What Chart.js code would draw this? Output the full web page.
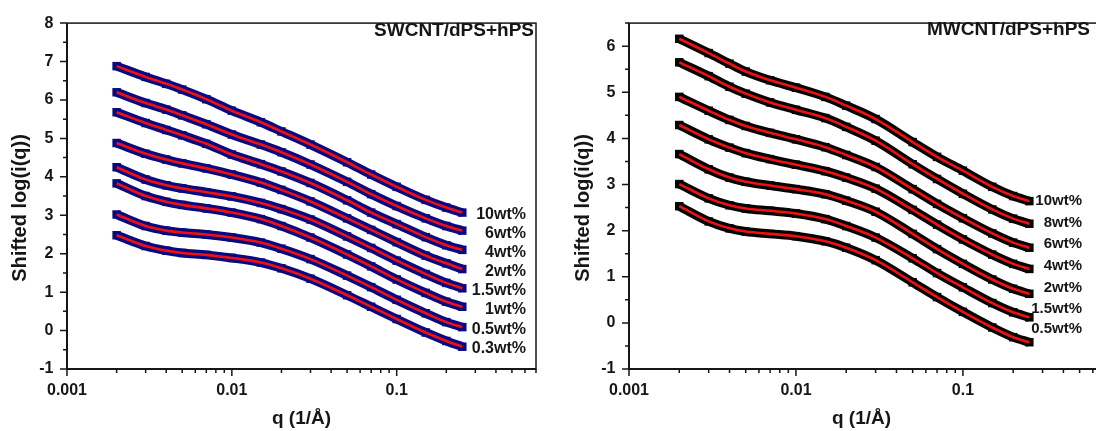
<!DOCTYPE html>
<html>
<head>
<meta charset="utf-8">
<script src="https://cdn.jsdelivr.net/npm/chart.js@4.4.1/dist/chart.umd.min.js"></script>
<style>
  html, body { margin: 0; padding: 0; background: #fff; overflow: hidden; }
  body { width: 1096px; height: 431px; position: relative; }
  #sw { position: absolute; left: 0; top: 0; }
  #mw { position: absolute; left: 548px; top: 0; }
</style>
</head>
<body>
<canvas id="sw" width="548" height="431"></canvas>
<canvas id="mw" width="568" height="431"></canvas>
<script>
// q (1/Å) shared by every curve
const qValues = [0.002, 0.003, 0.004, 0.005, 0.007, 0.01, 0.015, 0.02, 0.03, 0.05, 0.07, 0.1, 0.15, 0.2, 0.25];

// SWCNT/dPS+hPS, shifted log(i(q))
const sw10 = [6.88, 6.6, 6.42, 6.27, 6.02, 5.72, 5.42, 5.18, 4.84, 4.38, 4.06, 3.74, 3.4, 3.2, 3.07];
const sw6  = [6.2, 5.92, 5.75, 5.6, 5.37, 5.1, 4.84, 4.64, 4.32, 3.87, 3.55, 3.24, 2.92, 2.72, 2.6];
const sw4  = [5.68, 5.4, 5.22, 5.08, 4.86, 4.58, 4.33, 4.14, 3.84, 3.39, 3.07, 2.77, 2.43, 2.22, 2.1];
const sw2  = [4.88, 4.6, 4.45, 4.35, 4.22, 4.06, 3.85, 3.66, 3.36, 2.92, 2.62, 2.3, 1.95, 1.75, 1.6];
const sw15 = [4.25, 3.93, 3.78, 3.7, 3.6, 3.49, 3.32, 3.16, 2.89, 2.45, 2.15, 1.82, 1.47, 1.24, 1.1];
const sw1  = [3.83, 3.5, 3.35, 3.27, 3.18, 3.07, 2.9, 2.72, 2.42, 1.98, 1.67, 1.33, 0.98, 0.75, 0.62];
const sw05 = [3.02, 2.72, 2.6, 2.55, 2.5, 2.42, 2.29, 2.13, 1.86, 1.43, 1.13, 0.8, 0.45, 0.22, 0.09];
const sw03 = [2.48, 2.2, 2.08, 2.02, 1.97, 1.89, 1.77, 1.62, 1.35, 0.92, 0.62, 0.3, -0.05, -0.27, -0.42];
const swSeries = [sw10, sw6, sw4, sw2, sw15, sw1, sw05, sw03];
const swLabels = ['10wt%', '6wt%', '4wt%', '2wt%', '1.5wt%', '1wt%', '0.5wt%', '0.3wt%'];
const swLabelLevels = [3.02, 2.53, 2.02, 1.53, 1.04, 0.55, 0.03, -0.46];

// MWCNT/dPS+hPS, shifted log(i(q))
const mw10 = [6.16, 5.85, 5.62, 5.45, 5.26, 5.1, 4.9, 4.71, 4.42, 3.92, 3.6, 3.3, 2.95, 2.75, 2.64];
const mw8  = [5.65, 5.35, 5.12, 4.97, 4.78, 4.62, 4.44, 4.25, 3.95, 3.44, 3.12, 2.8, 2.46, 2.26, 2.15];
const mw6  = [4.9, 4.6, 4.4, 4.27, 4.12, 3.98, 3.81, 3.64, 3.38, 2.9, 2.58, 2.27, 1.94, 1.74, 1.63];
const mw4  = [4.29, 3.98, 3.8, 3.68, 3.55, 3.43, 3.29, 3.15, 2.91, 2.45, 2.13, 1.81, 1.48, 1.28, 1.17];
const mw2  = [3.66, 3.33, 3.15, 3.06, 2.98, 2.9, 2.79, 2.65, 2.41, 1.93, 1.6, 1.28, 0.94, 0.74, 0.63];
const mw15 = [3.01, 2.7, 2.55, 2.48, 2.43, 2.37, 2.25, 2.1, 1.85, 1.4, 1.08, 0.77, 0.43, 0.23, 0.12];
const mw05 = [2.53, 2.2, 2.05, 1.98, 1.93, 1.88, 1.77, 1.63, 1.36, 0.88, 0.56, 0.24, -0.1, -0.31, -0.42];
const mwSeries = [mw10, mw8, mw6, mw4, mw2, mw15, mw05];
const mwLabels = ['10wt%', '8wt%', '6wt%', '4wt%', '2wt%', '1.5wt%', '0.5wt%'];
const mwLabelLevels = [2.64, 2.16, 1.71, 1.24, 0.76, 0.31, -0.14];

// x axis ticks
const xDecades = [0.001, 0.01, 0.1];
const xTickLabels = ['0.001', '0.01', '0.1'];
const X_MAX = 0.7;

const FONT = "'Liberation Sans', Arial, sans-serif";
const INK = '#161616';
const FIT_RED = '#f01010';

const xTickValues = [];
xDecades.forEach(d => {
  for (let k = 1; k <= 9; k++) {
    if (d * k <= X_MAX + 1e-9) xTickValues.push(d * k);
  }
});

// each measured curve: thick band of square markers, red fit on top
function buildDatasets(series, bandColor) {
  const sets = [];
  series.forEach(values => {
    sets.push({
      data: values.map((v, i) => ({ x: qValues[i], y: v })),
      order: 2,
      borderColor: bandColor,
      borderWidth: 9,
      pointStyle: 'rect',
      pointRadius: 6,
      pointBackgroundColor: bandColor,
      pointBorderWidth: 0,
      cubicInterpolationMode: 'monotone'
    });
    sets.push({
      data: values.map((v, i) => ({ x: qValues[i], y: v })),
      order: 1,
      borderColor: FIT_RED,
      borderWidth: 2.6,
      pointRadius: 0,
      cubicInterpolationMode: 'monotone'
    });
  });
  return sets;
}

// frame, tick marks, panel title, series labels and axis titles
const panelDecor = {
  id: 'panelDecor',
  afterDraw(chart, args, o) {
    const { ctx, chartArea: a, scales: { x, y } } = chart;
    ctx.save();
    ctx.strokeStyle = INK;
    ctx.lineWidth = 1.5;
    ctx.beginPath();
    y.ticks.forEach(t => {
      const py = y.getPixelForValue(t.value);
      const len = Number.isInteger(t.value) ? 7 : 4;
      ctx.moveTo(a.left - len, py);
      ctx.lineTo(a.left, py);
    });
    x.ticks.forEach(t => {
      const px = x.getPixelForValue(t.value);
      const len = xDecades.includes(t.value) ? 7 : 4;
      ctx.moveTo(px, a.bottom);
      ctx.lineTo(px, a.bottom + len);
    });
    ctx.stroke();
    ctx.lineWidth = 1.5;
    ctx.strokeRect(a.left, a.top, a.right - a.left, a.bottom - a.top);
    ctx.lineWidth = 2;
    ctx.beginPath();
    ctx.moveTo(a.left, a.top);
    ctx.lineTo(a.left, a.bottom);
    ctx.lineTo(a.right, a.bottom);
    ctx.stroke();

    ctx.fillStyle = INK;
    ctx.textBaseline = 'middle';
    ctx.textAlign = 'right';
    ctx.font = `bold 19px ${FONT}`;
    ctx.fillText(o.title, a.right - o.titleInset, o.titleY);

    ctx.font = `bold ${o.labelSize}px ${FONT}`;
    o.labels.forEach((s, i) => {
      ctx.fillText(s, a.right - o.labelInset, y.getPixelForValue(o.levels[i]));
    });

    ctx.textAlign = 'center';
    ctx.font = `bold 19px ${FONT}`;
    ctx.fillText('q (1/Å)', (a.left + a.right) / 2 + o.xTitleShift, 419);

    ctx.font = `bold 20px ${FONT}`;
    ctx.translate(o.yTitleX, 208);
    ctx.rotate(-Math.PI / 2);
    ctx.fillText('Shifted log(i(q))', 0, 0);
    ctx.restore();
  }
};

function panelOptions(yMax, axisWidth, padRight, decor) {
  const tickFont = { family: FONT, size: 16, weight: 'bold' };
  return {
    responsive: false,
    animation: false,
    layout: { padding: { top: 20, right: padRight, left: 0, bottom: 0 } },
    plugins: {
      legend: { display: false },
      tooltip: { enabled: false },
      panelDecor: decor
    },
    scales: {
      x: {
        type: 'logarithmic',
        min: 0.001,
        max: X_MAX,
        afterFit: s => { s.height = 62; },
        afterBuildTicks: s => { s.ticks = xTickValues.map(v => ({ value: v })); },
        grid: { display: false, drawTicks: false },
        border: { display: false },
        ticks: {
          autoSkip: false, maxRotation: 0, padding: 12, color: INK, font: tickFont,
          callback: v => {
            const i = xDecades.indexOf(v);
            return i < 0 ? '' : xTickLabels[i];
          }
        }
      },
      y: {
        min: -1,
        max: yMax,
        afterFit: s => { s.width = axisWidth; },
        grid: { display: false, drawTicks: false },
        border: { display: false },
        ticks: {
          stepSize: 0.5, autoSkip: false, padding: 13.5, color: INK, font: tickFont,
          callback: v => Number.isInteger(v) ? String(v) : ''
        }
      }
    }
  };
}

new Chart(document.getElementById('sw'), {
  type: 'line',
  data: { datasets: buildDatasets(swSeries, '#0a0a80') },
  options: panelOptions(8, 67, 10, {
    title: 'SWCNT/dPS+hPS', titleInset: 2, titleY: 31,
    labels: swLabels, levels: swLabelLevels, labelSize: 16, labelInset: 10,
    xTitleShift: 0, yTitleX: 20
  }),
  plugins: [panelDecor]
});

new Chart(document.getElementById('mw'), {
  type: 'line',
  data: { datasets: buildDatasets(mwSeries, '#050505') },
  options: panelOptions(6.5, 81, 5, {
    title: 'MWCNT/dPS+hPS', titleInset: 14, titleY: 30,
    labels: mwLabels, levels: mwLabelLevels, labelSize: 15, labelInset: 22,
    xTitleShift: -5, yTitleX: 35
  }),
  plugins: [panelDecor]
});
</script>
</body>
</html>
